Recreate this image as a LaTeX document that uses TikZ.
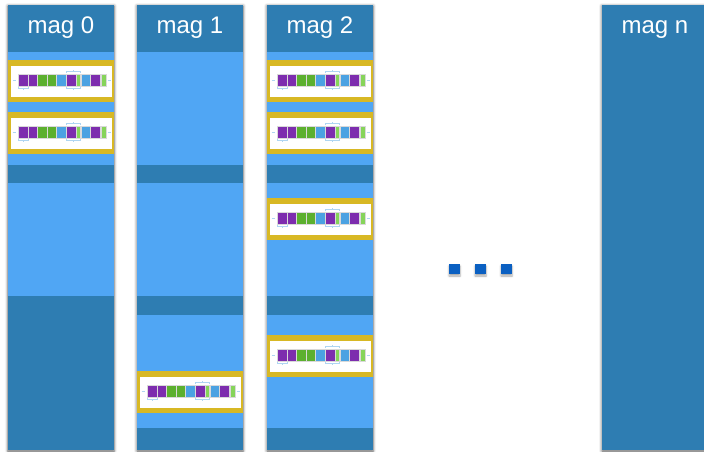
\documentclass[tikz,border=0pt]{standalone}
\usepackage{fontspec}
\setmainfont{Liberation Sans}
\usetikzlibrary{shadows.blur}
\definecolor{magdark}{HTML}{2E7DB2}
\definecolor{maglight}{HTML}{50A6F4}
\definecolor{tapegold}{HTML}{D8B824}
\definecolor{tappurple}{HTML}{7D2DAE}
\definecolor{tapgreen}{HTML}{5CB02E}
\definecolor{taplime}{HTML}{86D45A}
\definecolor{tapblue}{HTML}{4BA2E2}
\definecolor{dotblue}{HTML}{0B60C2}

% one tap unit (gold frame, white card, row of blocks), #1 = left, #2 = top
\newcommand{\tapeunit}[2]{%
  \begin{scope}[shift={(#1,#2)}]
    \fill[unitframe] (0,0) rectangle (106,42);
    \fill[white] (3,5.5) rectangle (104,37);
    \foreach \xa/\xb/\col in {10/20/tappurple, 20/29.5/tappurple,
        29.5/39/tapgreen, 39/48.5/tapgreen, 48.5/58.5/tapblue,
        58.5/68/tappurple, 68/72.5/taplime, 73.5/82.5/tapblue,
        82.5/92.5/tappurple, 93/98/taplime}
      \fill[tapblock, fill=\col] (\xa,14.3) rectangle (\xb,25.7);
    % brackets and stubs
    \draw[tapline] (10,27) -- (10,28.5) -- (20,28.5) -- (20,27) (15,28.5) -- (15,30);
    \draw[tapline] (58.5,27) -- (58.5,28.5) -- (72.5,28.5) -- (72.5,27) (65.5,28.5) -- (65.5,30);
    \draw[tapline] (58.5,13) -- (58.5,11.5) -- (72.5,11.5) -- (72.5,13) (65.5,11.5) -- (65.5,10);
    \draw[tapline] (4.5,20) -- (7.5,20) (99.5,20) -- (102.5,20);
  \end{scope}}

\begin{document}
\begin{tikzpicture}[x=1pt, y=-1pt,
    % columns and bands
    column/.style={fill=magdark,
        blur shadow={shadow xshift=0pt, shadow yshift=-1pt,
            shadow blur radius=3pt, shadow opacity=65}},
    band/.style={fill=maglight},
    % tap units
    unitframe/.style={fill=tapegold},
    tapblock/.style={draw=white!70!gray, line width=0.2pt},
    tapline/.style={draw=tapblue!45, line width=0.3pt},
    % headers and dots
    maglabel/.style={font=\fontsize{24}{28}\selectfont, text=white, anchor=base, inner sep=0pt},
    dotsq/.style={fill=dotblue,
        blur shadow={shadow xshift=0pt, shadow yshift=-2pt,
            shadow blur radius=2pt, shadow opacity=35}}
]
    \useasboundingbox (0,0) rectangle (704,451);

    % --- COLUMNS ---
    \foreach \cx in {8,137,267,602}
        \fill[column] (\cx,5) rectangle ++(106,445);

    % --- LIGHT BANDS ---
    \foreach \cx/\ry in {8/52, 8/183, 137/52, 137/183, 137/315,
                         267/52, 267/183, 267/315}
        \fill[band] (\cx,\ry) rectangle ++(106,113);

    % --- TAP UNITS ---
    \foreach \cx/\uy in {8/60, 8/112, 137/371, 267/60, 267/112, 267/198, 267/335}
        \tapeunit{\cx}{\uy};

    % --- HEADERS ---
    \node[maglabel] (mag0) at (61,33)  {mag 0};
    \node[maglabel] (mag1) at (190,33) {mag 1};
    \node[maglabel] (mag2) at (320,33) {mag 2};
    \node[maglabel] (magn) at (655,33) {mag n};

    % --- ELLIPSIS ---
    \foreach \dx in {449,475,501}
        \fill[dotsq] (\dx,264) rectangle ++(11,10);

\end{tikzpicture}
\end{document}
